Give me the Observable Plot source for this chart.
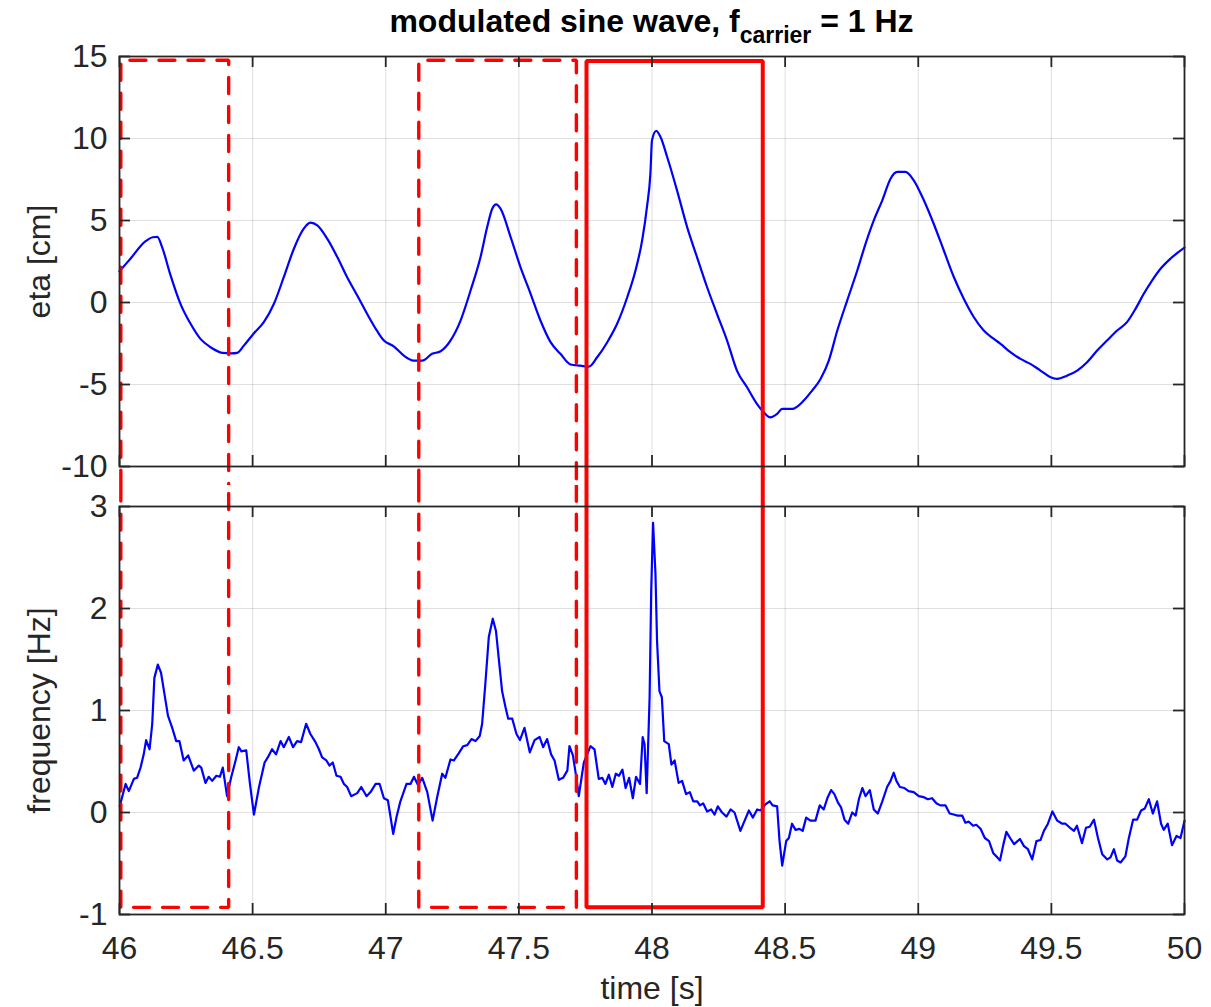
<!DOCTYPE html>
<html>
<head>
<meta charset="utf-8">
<script src="https://cdn.jsdelivr.net/npm/d3@7"></script>
<script src="https://cdn.jsdelivr.net/npm/@observablehq/plot@0.6"></script>
<style>
  body { margin: 0; background: #fff; }
  #wrap { position: relative; width: 1211px; height: 1007px; background: #fff; overflow: hidden;
          font-family: "Liberation Sans", Arial, Helvetica, sans-serif; }
  #title { position: absolute; left: 119px; width: 1065px; top: 5px; text-align: center;
           font-weight: bold; font-size: 32px; line-height: 32px; color: #000; white-space: nowrap; }
  #title sub { font-size: 23px; vertical-align: baseline; position: relative; top: 11px; line-height: 0; }
  #top { position: absolute; left: 0; top: 0; }
  #bottom { position: absolute; left: 0; top: 485px; }
</style>
</head>
<body>
<div id="wrap">
  <div id="top"></div>
  <div id="bottom"></div>
  <div id="title">modulated sine wave, f<sub>carrier</sub> = 1 Hz</div>
</div>
<script>
// ---------- data ----------
const xTicks = [46, 46.5, 47, 47.5, 48, 48.5, 49, 49.5, 50];
const etaTicks = [-10, -5, 0, 5, 10, 15];
const freqTicks = [-1, 0, 1, 2, 3];

const etaTime = [46.000,46.041,46.098,46.125,46.142,46.160,46.190,46.229,46.267,46.304,46.342,46.386,46.420,46.442,46.467,46.505,46.542,46.580,46.617,46.655,46.692,46.717,46.743,46.780,46.818,46.855,46.893,46.930,46.968,46.993,47.030,47.068,47.105,47.137,47.174,47.206,47.243,47.281,47.318,47.356,47.381,47.400,47.415,47.431,47.469,47.506,47.544,47.581,47.619,47.656,47.694,47.731,47.763,47.794,47.832,47.869,47.907,47.938,47.963,47.981,47.994,48.000,48.016,48.032,48.057,48.094,48.132,48.169,48.207,48.244,48.282,48.319,48.357,48.394,48.420,48.444,48.470,48.489,48.526,48.570,48.600,48.633,48.664,48.696,48.733,48.771,48.802,48.833,48.865,48.896,48.921,48.952,48.983,49.021,49.058,49.096,49.134,49.171,49.209,49.246,49.284,49.309,49.346,49.384,49.421,49.459,49.497,49.522,49.559,49.597,49.634,49.672,49.709,49.747,49.784,49.816,49.847,49.878,49.910,49.947,50.000];
const etaValue = [1.90,2.67,3.74,3.98,4.00,3.38,1.75,-0.08,-1.30,-2.22,-2.73,-3.07,-3.10,-3.07,-2.63,-1.87,-1.20,-0.08,1.54,3.28,4.50,4.87,4.70,3.89,2.77,1.54,0.43,-0.69,-1.75,-2.32,-2.67,-3.24,-3.54,-3.54,-3.13,-2.97,-2.32,-1.10,0.70,2.77,4.60,5.72,5.98,5.72,3.99,2.16,0.53,-1.10,-2.42,-3.13,-3.78,-3.85,-3.91,-3.34,-2.42,-1.30,0.32,1.95,3.79,5.82,7.86,9.89,10.46,10.09,8.87,6.84,4.60,2.77,0.93,-0.69,-2.32,-4.15,-5.17,-6.18,-6.70,-7.00,-6.79,-6.49,-6.49,-5.98,-5.40,-4.66,-3.54,-1.71,0.12,1.95,3.58,5.01,6.23,7.55,7.96,7.96,7.45,6.23,4.80,3.17,1.54,0.23,-0.90,-1.71,-2.22,-2.52,-3.03,-3.44,-3.74,-4.15,-4.56,-4.66,-4.46,-4.15,-3.64,-2.93,-2.32,-1.71,-1.20,-0.39,0.53,1.34,2.06,2.67,3.34];

const freqTime = [46.001,46.023,46.035,46.054,46.066,46.079,46.091,46.100,46.113,46.123,46.131,46.144,46.156,46.169,46.182,46.198,46.213,46.225,46.241,46.258,46.279,46.298,46.307,46.323,46.335,46.348,46.364,46.377,46.388,46.404,46.419,46.436,46.448,46.458,46.476,46.490,46.505,46.524,46.545,46.557,46.573,46.588,46.605,46.617,46.636,46.652,46.667,46.682,46.701,46.717,46.736,46.749,46.761,46.777,46.789,46.801,46.815,46.830,46.843,46.855,46.870,46.893,46.908,46.928,46.943,46.962,46.977,46.993,47.008,47.028,47.040,47.055,47.078,47.093,47.106,47.121,47.137,47.156,47.176,47.193,47.212,47.224,47.243,47.256,47.274,47.291,47.306,47.322,47.337,47.353,47.362,47.374,47.387,47.402,47.414,47.424,47.437,47.450,47.460,47.475,47.491,47.504,47.521,47.541,47.559,47.578,47.591,47.606,47.621,47.634,47.650,47.666,47.682,47.690,47.703,47.716,47.725,47.744,47.769,47.784,47.800,47.813,47.825,47.838,47.851,47.864,47.876,47.889,47.901,47.914,47.928,47.940,47.955,47.965,47.972,47.980,47.991,47.997,48.004,48.013,48.019,48.028,48.037,48.046,48.063,48.073,48.085,48.100,48.113,48.128,48.142,48.155,48.170,48.180,48.192,48.207,48.222,48.235,48.247,48.263,48.280,48.295,48.310,48.332,48.348,48.364,48.379,48.395,48.408,48.426,48.442,48.453,48.470,48.479,48.489,48.504,48.514,48.526,48.539,48.554,48.566,48.579,48.595,48.614,48.630,48.645,48.660,48.673,48.685,48.698,48.710,48.723,48.737,48.752,48.765,48.777,48.790,48.802,48.818,48.833,48.848,48.865,48.883,48.896,48.908,48.918,48.931,48.948,48.964,48.983,49.002,49.021,49.036,49.052,49.068,49.083,49.102,49.118,49.133,49.148,49.165,49.177,49.190,49.206,49.218,49.234,49.250,49.266,49.282,49.297,49.307,49.320,49.331,49.345,49.360,49.382,49.397,49.412,49.428,49.444,49.459,49.472,49.487,49.504,49.522,49.541,49.553,49.570,49.585,49.596,49.615,49.630,49.644,49.660,49.675,49.691,49.710,49.722,49.735,49.747,49.760,49.778,49.791,49.807,49.822,49.837,49.851,49.866,49.881,49.897,49.912,49.922,49.937,49.953,49.970,49.985,50.000];
const freqValue = [0.065,0.28,0.21,0.33,0.34,0.44,0.57,0.71,0.62,0.87,1.32,1.45,1.37,1.16,0.95,0.83,0.70,0.70,0.51,0.56,0.41,0.46,0.44,0.29,0.35,0.31,0.36,0.35,0.44,0.16,0.34,0.51,0.64,0.60,0.61,0.28,-0.02,0.25,0.49,0.54,0.62,0.57,0.70,0.64,0.74,0.64,0.70,0.69,0.87,0.77,0.69,0.62,0.54,0.51,0.46,0.49,0.36,0.35,0.28,0.25,0.16,0.19,0.25,0.16,0.20,0.28,0.28,0.14,0.12,-0.21,-0.05,0.11,0.28,0.28,0.35,0.27,0.34,0.20,-0.08,0.15,0.38,0.34,0.52,0.51,0.58,0.65,0.66,0.72,0.70,0.75,0.87,1.26,1.72,1.90,1.78,1.52,1.19,1.03,0.92,0.92,0.77,0.71,0.83,0.59,0.71,0.74,0.64,0.72,0.57,0.51,0.32,0.34,0.41,0.65,0.56,0.34,0.16,0.49,0.65,0.62,0.33,0.34,0.28,0.37,0.25,0.38,0.36,0.42,0.24,0.34,0.14,0.35,0.28,0.74,0.67,0.19,1.13,2.17,2.84,2.34,1.68,1.19,1.13,0.70,0.67,0.47,0.51,0.29,0.31,0.18,0.20,0.11,0.11,0.07,0.09,0.01,0.03,-0.02,0.06,0.00,-0.04,0.03,0.00,-0.18,-0.08,0.02,-0.05,0.03,0.02,0.08,0.11,0.07,0.06,-0.28,-0.52,-0.28,-0.25,-0.11,-0.17,-0.16,-0.18,-0.05,-0.08,-0.08,0.07,0.03,0.15,0.22,0.18,0.10,0.05,-0.07,-0.11,0.00,-0.03,0.13,0.24,0.16,0.22,0.03,-0.01,0.11,0.25,0.31,0.39,0.31,0.25,0.24,0.21,0.20,0.16,0.15,0.13,0.14,0.09,0.07,0.07,-0.01,-0.02,-0.03,-0.03,-0.10,-0.09,-0.13,-0.12,-0.16,-0.25,-0.28,-0.40,-0.44,-0.47,-0.31,-0.19,-0.25,-0.31,-0.26,-0.33,-0.36,-0.46,-0.28,-0.27,-0.18,-0.11,0.01,-0.08,-0.11,-0.11,-0.15,-0.18,-0.13,-0.30,-0.15,-0.14,-0.07,-0.25,-0.41,-0.46,-0.44,-0.36,-0.47,-0.49,-0.43,-0.25,-0.07,-0.07,0.02,0.04,0.13,-0.01,0.11,-0.11,-0.17,-0.11,-0.32,-0.23,-0.25,-0.08];

// highlighted windows (time span, top edge in eta, bottom edge in frequency)
const boxStart  = [46.005, 47.124, 47.754];
const boxEnd    = [46.410, 47.716, 48.416];
const boxTopEta = [14.77, 14.77, 14.73];
const boxBottomFreq = [-0.93, -0.93, -0.93];
const boxDashed = [true, true, false];
// where the box edges cross the gap between the two panels
const gapEta = -11.2;
const gapFreq = 3.21;

// ---------- helpers ----------
const ink = "#262626";
const fontFamily = '"Liberation Sans", Arial, Helvetica, sans-serif';
const W = 1211, ML = 119, MR = 27;
const plotW = W - ML - MR;
const tickLen = 11;
const gridOpts = {stroke: ink, strokeOpacity: 0.15, strokeWidth: 1};
const fmt = d => String(d);

const etaRows = etaTime.map((t, i) => ({t, v: etaValue[i]}));
const freqRows = freqTime.map((t, i) => ({t, v: freqValue[i]}));

function topBoxRows(dashed) {
  const rows = [];
  boxStart.forEach((s, i) => {
    if (boxDashed[i] !== dashed) return;
    const e = boxEnd[i], top = boxTopEta[i];
    rows.push({t: s, v: gapEta, z: i}, {t: s, v: top, z: i}, {t: e, v: top, z: i}, {t: e, v: gapEta, z: i});
  });
  return rows;
}
function bottomBoxRows(dashed) {
  const rows = [];
  boxStart.forEach((s, i) => {
    if (boxDashed[i] !== dashed) return;
    const e = boxEnd[i], b = boxBottomFreq[i];
    rows.push({t: s, v: gapFreq, z: i}, {t: s, v: b, z: i}, {t: e, v: b, z: i}, {t: e, v: gapFreq, z: i});
  });
  return rows;
}

function boxMarks(rowsFn) {
  return [
    Plot.line(rowsFn(true), {x: "t", y: "v", z: "z", stroke: "#ff0000", strokeWidth: 3.4,
      strokeDasharray: "16,13", strokeLinejoin: "miter", curve: "linear"}),
    Plot.line(rowsFn(false), {x: "t", y: "v", z: "z", stroke: "#ff0000", strokeWidth: 4,
      strokeLinejoin: "miter", strokeLinecap: "square", curve: "linear"})
  ];
}

// inward tick marks on all four sides + y tick labels + box frame
function frameMarks(yTicks, plotH) {
  const tk = {stroke: ink, strokeWidth: 1.8};
  return [
    Plot.ruleX(xTicks, {x: d => d, insetTop: plotH - tickLen, ...tk}),
    Plot.ruleX(xTicks, {x: d => d, insetBottom: plotH - tickLen, ...tk}),
    Plot.ruleY(yTicks, {y: d => d, insetRight: plotW - tickLen, ...tk}),
    Plot.ruleY(yTicks, {y: d => d, insetLeft: plotW - tickLen, ...tk}),
    Plot.axisY(yTicks, {anchor: "left", tickSize: 0, tickPadding: 12, stroke: "none", fill: ink, label: null, tickFormat: fmt}),
    Plot.frame({stroke: ink, strokeWidth: 1.8})
  ];
}

const style = {fontFamily, fontSize: "32px", color: ink, background: "transparent"};

// ---------- top panel ----------
const topH = 485, topMT = 56, topMB = 19;
const topPlot = Plot.plot({
  width: W, height: topH,
  marginLeft: ML, marginRight: MR, marginTop: topMT, marginBottom: topMB,
  style,
  x: {domain: [46, 50], axis: null},
  y: {domain: [-10, 15]},
  marks: [
    Plot.gridX(xTicks, gridOpts),
    Plot.gridY(etaTicks, gridOpts),
    Plot.line(etaRows, {x: "t", y: "v", stroke: "#0000ff", strokeWidth: 2.2, curve: "monotone-x"}),
    ...boxMarks(topBoxRows),
    ...frameMarks(etaTicks, topH - topMT - topMB),
    Plot.text(["eta [cm]"], {frameAnchor: "left", text: d => d, rotate: -90, dx: -80,
      textAnchor: "middle", lineAnchor: "middle", fill: ink, fontSize: 32})
  ]
});
document.getElementById("top").appendChild(topPlot);

// ---------- bottom panel ----------
const botH = 522, botMT = 21, botMB = 93;
const bottomPlot = Plot.plot({
  width: W, height: botH,
  marginLeft: ML, marginRight: MR, marginTop: botMT, marginBottom: botMB,
  style,
  x: {domain: [46, 50]},
  y: {domain: [-1, 3]},
  marks: [
    Plot.gridX(xTicks, gridOpts),
    Plot.gridY(freqTicks, gridOpts),
    Plot.line(freqRows, {x: "t", y: "v", stroke: "#0000ff", strokeWidth: 2.2, curve: "linear"}),
    ...boxMarks(bottomBoxRows),
    ...frameMarks(freqTicks, botH - botMT - botMB),
    Plot.axisX(xTicks, {anchor: "bottom", tickSize: 0, tickPadding: 22, stroke: "none", fill: ink, label: null, tickFormat: fmt}),
    Plot.text(["frequency [Hz]"], {frameAnchor: "left", text: d => d, rotate: -90, dx: -80,
      textAnchor: "middle", lineAnchor: "middle", fill: ink, fontSize: 32}),
    Plot.text(["time [s]"], {frameAnchor: "bottom", text: d => d, dy: 74,
      textAnchor: "middle", lineAnchor: "middle", fill: ink, fontSize: 32})
  ]
});
document.getElementById("bottom").appendChild(bottomPlot);
</script>
</body>
</html>
